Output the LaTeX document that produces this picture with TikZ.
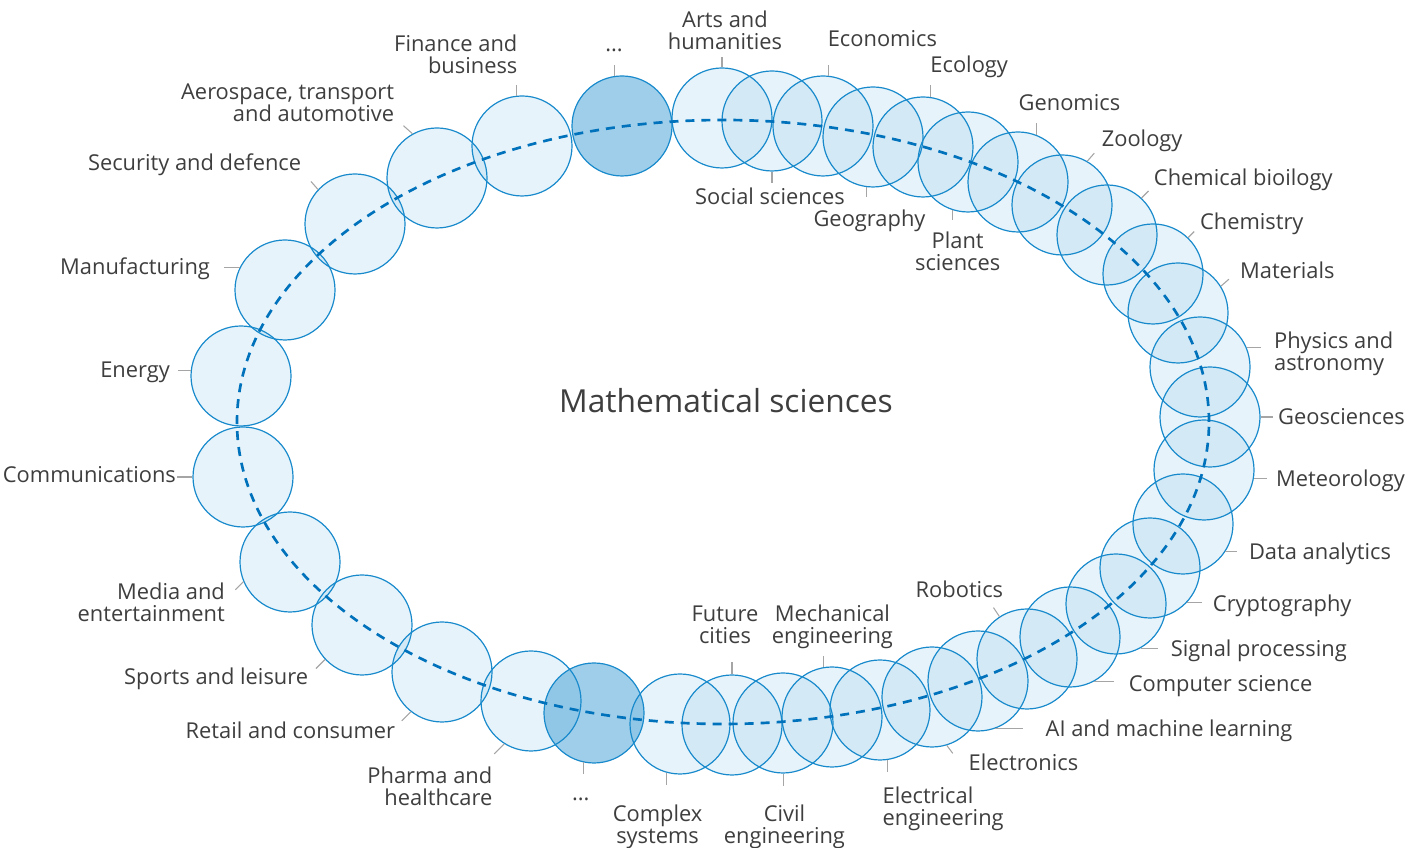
\documentclass[tikz,border=0pt]{standalone}
\usepackage{fontspec}
\setmainfont{Open Sans}
\definecolor{ringblue}{RGB}{24,138,204}
\definecolor{dashblue}{RGB}{0,114,188}
\definecolor{txtgray}{RGB}{62,62,62}
\definecolor{leadgray}{RGB}{165,165,165}
\begin{document}
\begin{tikzpicture}[x=.75pt, y=.75pt,
  topic/.style={circle, draw=ringblue, line width=.9pt, fill=ringblue, fill opacity=.1, minimum size=75pt, inner sep=0pt},
  topicdark/.style={topic, fill opacity=.42},
  lead/.style={draw=leadgray, line width=.8pt},
  lbl/.style={text=txtgray, inner sep=0pt, font=\fontsize{16.4}{16.5}\selectfont, align=center}]
\useasboundingbox (0,0) rectangle (1428,848);
\node[topicdark] (dotsT) at (622,722) {};
\node[topic] (arts) at (722,730) {};
\node[topic] (soc) at (772,727) {};
\node[topic] (econ) at (823,722) {};
\node[topic] (geog) at (873,711) {};
\node[topic] (ecol) at (923,701) {};
\node[topic] (plant) at (968,686) {};
\node[topic] (genom) at (1018,666) {};
\node[topic] (zool) at (1062,643) {};
\node[topic] (chembio) at (1107,613) {};
\node[topic] (chem) at (1153,574) {};
\node[topic] (mater) at (1178,535) {};
\node[topic] (phys) at (1200,481) {};
\node[topic] (geosci) at (1210,431) {};
\node[topic] (meteo) at (1204,378) {};
\node[topic] (data) at (1183,324) {};
\node[topic] (crypto) at (1150,280) {};
\node[topic] (signal) at (1116,244) {};
\node[topic] (comp) at (1070,211) {};
\node[topic] (robot) at (1027,189) {};
\node[topic] (ai) at (978,167) {};
\node[topic] (electr) at (932,151) {};
\node[topic] (eleng) at (880,138) {};
\node[topic] (mech) at (832,131) {};
\node[topic] (civil) at (783,125) {};
\node[topic] (future) at (732,123) {};
\node[topic] (complex) at (680,124) {};
\node[topicdark] (dotsB) at (594,135) {};
\node[topic] (pharma) at (531,147) {};
\node[topic] (retail) at (442,176) {};
\node[topic] (sports) at (362,223) {};
\node[topic] (media) at (290,286) {};
\node[topic] (comm) at (243,371) {};
\node[topic] (energy) at (241,472) {};
\node[topic] (manuf) at (285,558) {};
\node[topic] (secur) at (355,624) {};
\node[topic] (aero) at (437,670) {};
\node[topic] (fin) at (522,702) {};
\draw[dashblue, line width=2pt, dash pattern=on 6.75pt off 5.25pt] (723,426) ellipse (486 and 302);
\node[text=txtgray, font=\fontsize{23.8}{28}\selectfont] (math) at (726,447) {Mathematical sciences};
\draw[lead] (dotsT.99) -- ++(0,11) node[lbl, anchor=south, yshift=9.5pt] (dotsTL) {...};
\draw[lead] (arts.90) -- ++(0,10) node[lbl, anchor=south, xshift=2.25pt, yshift=5.25pt] (artsL) {Arts and\\humanities};
\draw[lead] (soc.270) -- ++(0,-11) node[lbl, anchor=north, xshift=-1.5pt, yshift=-3.75pt] (socL) {Social sciences};
\draw[lead] (econ.84) -- ++(0,11) node[lbl, anchor=south west, xshift=-.75pt, yshift=12.75pt] (econL) {Economics};
\draw[lead] (geog.263) -- ++(0,-10) node[lbl, anchor=north, xshift=2pt, yshift=-9.3pt] (geogL) {Geography};
\draw[lead] (ecol.81) -- ++(0,12) node[lbl, anchor=south west, xshift=-.75pt, yshift=4.7pt] (ecolL) {Ecology};
\draw[lead] (plant.252) -- ++(0,-10) node[lbl, anchor=north, xshift=4pt, yshift=-8.6pt] (plantL) {Plant\\sciences};
\draw[lead] (genom.69) -- ++(0,12) node[lbl, anchor=south west, xshift=-13.5pt, yshift=8.7pt] (genomL) {Genomics};
\draw[lead] (zool.60) -- ++(7,8) node[lbl, anchor=south west, xshift=5.25pt, yshift=1pt] (zoolL) {Zoology};
\draw[lead] (chembio.47) -- ++(7,7) node[lbl, anchor=south west, xshift=3.7pt] (chembioL) {Chemical bioilogy};
\draw[lead] (chem.46) -- ++(6,6) node[lbl, anchor=south west, xshift=4pt, yshift=-2.5pt] (chemL) {Chemistry};
\draw[lead] (mater.32) -- ++(8,7) node[lbl, anchor=south west, xshift=8pt] (materL) {Materials};
\draw[lead] (phys.23) -- ++(14,0) node[lbl, anchor=west, align=left, xshift=9.75pt, yshift=-5pt] (physL) {Physics and\\astronomy};
\draw[lead] (geosci.0) -- ++(12,0) node[lbl, anchor=west, xshift=3.75pt] (geosciL) {Geosciences};
\draw[lead] (meteo.-10) -- ++(13,0) node[lbl, anchor=west, xshift=6.6pt, yshift=-1.8pt] (meteoL) {Meteorology};
\draw[lead] (data.-33) -- ++(12,0) node[lbl, anchor=west, xshift=8.3pt, yshift=-1.5pt] (dataL) {Data analytics};
\draw[lead] (crypto.-43) -- ++(15,0) node[lbl, anchor=west, xshift=7.8pt, yshift=-2.3pt] (cryptoL) {Cryptography};
\draw[lead] (signal.-61) -- ++(17,0) node[lbl, anchor=west, xshift=9.6pt, yshift=-1.8pt] (signalL) {Signal processing};
\draw[lead] (comp.-62) -- ++(20,0) node[lbl, anchor=west, xshift=10.9pt, yshift=-3pt] (compL) {Computer science};
\draw[lead] (robot.123) -- ++(-6,9) node[lbl, anchor=south east, xshift=7.65pt, yshift=7pt] (robotL) {Robotics};
\draw[lead] (ai.-70) -- ++(28,0) node[lbl, anchor=west, xshift=16.4pt, yshift=-1.6pt] (aiL) {AI and machine learning};
\draw[lead] (electr.-73) -- ++(6,-8) node[lbl, anchor=north west, xshift=11.5pt] (electrL) {Electronics};
\draw[lead] (eleng.-81) -- ++(0,-12) node[lbl, anchor=north west, align=left, xshift=-4.35pt, yshift=-11.1pt] (elengL) {Electrical\\engineering};
\draw[lead] (mech.100) -- ++(0,11) node[lbl, anchor=south, xshift=6.9pt, yshift=5pt] (mechL) {Mechanical\\engineering};
\draw[lead] (civil.271) -- ++(0,-12) node[lbl, anchor=north, xshift=.4pt, yshift=-14.4pt] (civilL) {Civil\\engineering};
\draw[lead] (future.90) -- ++(0,12) node[lbl, anchor=south, xshift=-5.25pt, yshift=13.65pt] (futureL) {Future\\cities};
\draw[lead] (complex.255) -- ++(0,-12) node[lbl, anchor=north, xshift=-7pt, yshift=-14.9pt] (complexL) {Complex\\systems};
\draw[lead] (dotsB.258) -- ++(0,-12) node[lbl, anchor=north, xshift=-2pt, yshift=-17.5pt] (dotsBL) {...};
\draw[lead] (pharma.238) -- ++(-10,-10) node[lbl, anchor=north east, align=right, xshift=-1pt, yshift=-9.6pt] (pharmaL) {Pharma and\\healthcare};
\draw[lead] (retail.232) -- ++(-9,-9) node[lbl, anchor=north east, xshift=-4.65pt, yshift=-.6pt] (retailL) {Retail and consumer};
\draw[lead] (sports.223) -- ++(-9,-9) node[lbl, anchor=north east, xshift=-5.5pt, yshift=.7pt] (sportsL) {Sports and leisure};
\draw[lead] (media.203) -- ++(-8,-8) node[lbl, anchor=north east, align=right, xshift=-7.5pt, yshift=5.5pt] (mediaL) {Media and\\entertainment};
\draw[lead] (comm.180) -- ++(-15,0) node[lbl, anchor=east, xshift=-.75pt, yshift=1.9pt] (commL) {Communications};
\draw[lead] (energy.174) -- ++(-13,0) node[lbl, anchor=east, xshift=-5.5pt, yshift=-1.4pt] (energyL) {Energy};
\draw[lead] (manuf.154) -- ++(-16,0) node[lbl, anchor=east, xshift=-9.8pt, yshift=-.8pt] (manufL) {Manufacturing};
\draw[lead] (secur.137) -- ++(-7,8) node[lbl, anchor=south east, xshift=-7pt, yshift=3.6pt] (securL) {Security and defence};
\draw[lead] (aero.119) -- ++(-9,8) node[lbl, anchor=south east, align=right, xshift=-6.6pt, yshift=2.6pt] (aeroL) {Aerospace, transport\\and automotive};
\draw[lead] (fin.96) -- ++(0,11) node[lbl, anchor=south east, align=right, xshift=.9pt, yshift=7.9pt] (finL) {Finance and\\business};
\end{tikzpicture}
\end{document}
